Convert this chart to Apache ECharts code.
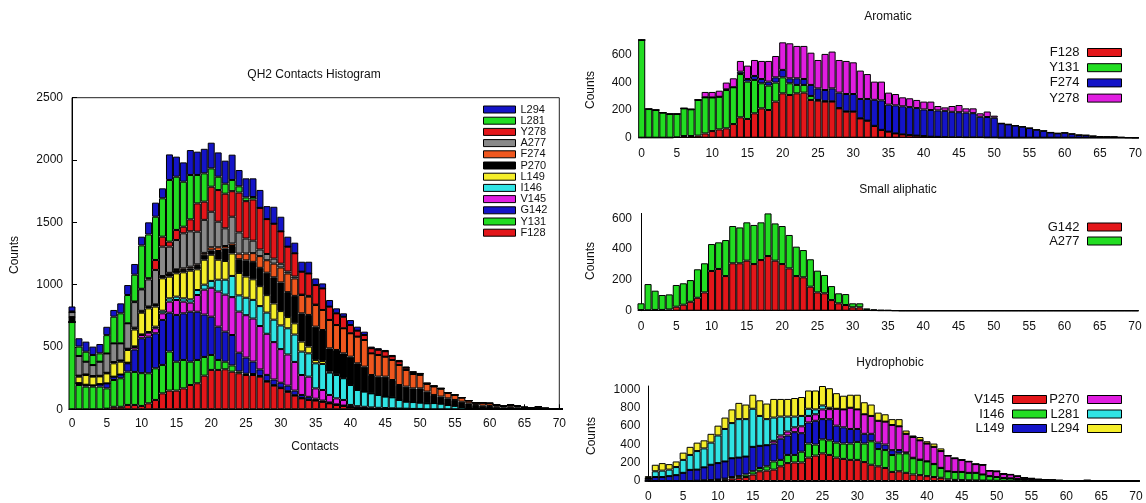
<!DOCTYPE html>
<html><head><meta charset="utf-8">
<script src="https://cdn.jsdelivr.net/npm/echarts@6/dist/echarts.min.js"></script>
<style>html,body{margin:0;padding:0;background:#fff}#c{width:1146px;height:503px}</style>
</head><body><div id="c"></div>
<script>
const contacts = ['0','1','2','3','4','5','6','7','8','9','10','11','12','13','14','15','16','17','18','19','20','21','22','23','24','25','26','27','28','29','30','31','32','33','34','35','36','37','38','39','40','41','42','43','44','45','46','47','48','49','50','51','52','53','54','55','56','57','58','59','60','61','62','63','64','65','66','67','68','69','70'];

// QH2 Contacts Histogram (stack order bottom -> top)
const qhF128 = [0,0,0,0,0,5,20,20,35,35,27,48,75,128,150,150,168,195,209,270,316,316,321,302,289,275,275,262,222,190,170,140,110,88,75,70,60,48,35,27,16,10,8,6,5,4,3,2,2,1,1,0,0,0,0,0,0,0,0,0,0,0,0,0,0,0,0,0,0,0,0];
const qhY131 = [700,195,182,182,182,163,215,229,267,265,263,241,254,228,313,232,228,187,187,150,120,80,61,50,15,10,8,5,4,4,3,5,3,2,2,2,1,1,1,1,1,1,0,0,0,0,0,0,0,0,0,0,0,0,0,0,0,0,0,0,0,0,0,0,0,0,0,0,0,0,0];
const qhG142 = [0,15,15,10,20,40,27,30,67,180,280,294,281,361,312,375,374,401,387,340,307,267,241,244,150,130,100,53,50,45,40,45,37,25,23,13,9,6,4,2,1,1,1,1,1,1,1,1,0,0,0,0,0,0,0,0,0,0,0,0,0,0,0,0,0,0,0,0,0,0,0];
const qhV145 = [0,0,0,0,0,0,0,0,5,20,26,32,40,53,89,120,94,73,134,200,232,282,297,304,330,340,345,348,330,300,270,250,230,160,162,83,85,60,48,45,17,13,11,8,6,5,4,3,3,2,2,0,0,0,0,0,0,0,0,0,0,0,0,0,0,0,0,0,0,0,0];
const qhI146 = [0,0,0,0,0,0,0,0,0,5,5,5,13,21,26,27,26,26,40,40,55,95,120,170,130,140,150,160,170,180,190,210,220,188,187,201,209,179,187,174,160,130,122,113,103,92,88,69,56,55,50,48,50,45,35,28,18,10,5,3,2,0,0,0,0,0,0,0,0,0,0];
const qhL149 = [0,52,78,70,62,80,107,103,102,135,174,190,161,260,174,187,209,230,166,200,210,160,150,180,180,170,165,160,140,130,115,90,90,80,54,27,24,8,5,3,1,0,0,0,0,0,0,0,0,0,0,0,0,0,0,0,0,0,0,0,0,0,0,0,0,0,0,0,0,0,0];
const qhP270 = [40,8,5,5,5,5,10,10,10,10,10,10,13,13,26,27,19,19,27,40,35,70,100,60,110,130,140,147,180,210,230,200,220,227,254,267,248,187,196,197,226,214,200,147,147,160,139,120,121,110,115,94,65,57,53,47,43,38,30,26,25,20,16,20,16,10,8,16,6,5,5];
const qhF274 = [0,0,0,0,0,0,0,0,0,5,5,5,5,5,5,5,13,13,13,15,25,30,20,20,45,55,70,94,100,110,120,150,140,147,147,174,161,228,200,201,188,214,214,174,174,160,161,161,134,115,108,62,68,63,44,40,33,22,18,24,21,15,11,15,11,6,3,5,2,0,0];
const qhA277 = [40,158,102,88,113,155,150,137,204,205,172,217,276,236,210,235,281,284,262,265,285,205,142,215,170,120,100,53,50,40,30,15,15,3,6,3,0,0,0,0,0,0,0,0,0,0,0,0,0,0,0,0,0,0,0,0,0,0,0,0,0,0,0,0,0,0,0,0,0,0,0];
const qhY278 = [0,0,0,0,0,0,0,0,0,5,5,10,80,80,40,81,53,96,227,146,201,254,278,205,320,300,330,334,280,280,260,200,187,184,180,157,173,107,94,93,66,48,40,41,42,44,30,29,18,15,10,5,4,3,2,0,0,0,0,0,0,0,0,0,0,0,0,0,0,0,0];
const qhL281 = [5,75,80,81,67,147,214,241,227,215,348,351,347,308,495,427,361,356,228,227,147,107,80,90,50,30,20,0,0,0,0,0,0,0,0,0,0,0,0,0,0,0,0,0,0,0,0,0,0,0,0,0,0,0,0,0,0,0,0,0,0,0,0,0,0,0,0,0,0,0,0];
const qhL294 = [40,67,81,67,75,67,54,80,80,86,70,97,113,80,205,161,155,200,187,197,206,195,185,203,131,153,150,144,104,136,117,80,85,80,94,53,40,53,40,27,40,32,27,13,12,10,10,11,8,4,3,0,0,0,0,0,0,0,0,0,0,0,0,0,0,0,0,0,0,0,0];

// Aromatic
const arF128 = [0,0,0,0,0,3,12,12,15,31,48,60,68,99,148,136,177,213,201,262,322,310,322,327,274,269,262,262,213,189,189,140,123,85,56,44,31,24,19,15,12,7,6,4,3,3,2,2,2,1,1,0,0,0,0,0,0,0,0,0,0,0,0,0,0,0,0,0,0,0,0];
const arY131 = [709,208,201,182,172,169,201,194,259,262,244,237,278,267,314,271,242,182,177,138,116,85,61,56,29,5,3,2,2,2,1,1,1,1,1,0,0,0,0,0,0,0,0,0,0,0,0,0,0,0,0,0,0,0,0,0,0,0,0,0,0,0,0,0,0,0,0,0,0,0,0];
const arF274 = [0,0,0,0,0,0,0,0,0,0,0,0,5,0,17,19,29,31,29,38,54,36,48,43,80,84,81,94,112,126,127,140,157,189,214,196,204,204,203,200,193,194,192,191,185,182,180,176,150,149,144,104,97,88,80,70,58,50,38,32,36,28,20,18,12,8,7,6,3,1,0];
const arY278 = [0,0,0,0,0,0,0,0,0,39,40,44,49,65,78,97,116,131,150,155,200,254,235,240,234,206,262,267,237,240,230,206,181,132,136,87,82,65,64,59,57,61,32,25,42,52,31,35,25,40,15,0,0,0,0,0,0,0,0,0,0,0,0,0,0,0,0,0,0,0,0];

// Small aliphatic
const saG142 = [4,3,5,5,8,26,39,58,84,119,258,271,225,308,308,325,303,329,355,325,303,275,225,217,156,119,113,69,48,37,22,22,4,2,1,1,0,0,0,0,0,0,0,0,0,0,0,0,0,0,0,0,0,0,0,0,0,0,0,0,0,0,0,0,0,0,0,0,0,0,0];
const saA277 = [44,170,125,97,98,141,139,141,185,189,175,173,234,242,233,249,254,245,277,242,247,217,191,177,178,141,119,91,65,71,26,26,11,7,4,3,2,0,0,0,0,0,0,0,0,0,0,0,0,0,0,0,0,0,0,0,0,0,0,0,0,0,0,0,0,0,0,0,0,0,0];

// Hydrophobic
const hyV145 = [0,0,0,0,0,0,0,0,3,5,11,18,28,35,43,71,106,113,124,160,195,202,202,255,277,301,284,255,241,230,230,206,177,160,142,99,106,89,71,64,53,43,35,18,12,10,8,6,5,4,3,2,2,1,1,0,0,0,0,0,0,0,0,0,0,0,0,0,0,0,0];
const hyI146 = [0,0,0,0,0,0,0,3,5,5,5,8,15,18,28,35,36,47,89,70,89,82,117,153,120,153,159,163,167,178,196,202,256,188,195,184,195,212,177,166,160,141,107,88,87,89,81,83,66,49,40,30,27,20,15,12,8,6,4,3,2,1,1,2,1,0,0,0,0,0,0];
const hyL149 = [25,43,43,53,64,89,121,121,141,167,179,187,205,202,195,266,241,230,195,231,212,248,202,230,259,220,230,185,177,159,141,106,81,70,60,53,36,10,5,3,2,2,1,0,0,0,0,0,0,0,0,0,0,0,0,0,0,0,0,0,0,0,0,0,0,0,0,0,0,0,0];
const hyP270 = [0,0,0,0,0,0,0,0,0,0,0,0,0,0,0,0,0,0,30,35,43,53,75,71,71,106,110,184,195,231,213,213,195,238,250,274,259,203,226,210,193,186,183,171,149,131,124,95,106,60,63,46,42,32,19,16,10,8,7,4,2,3,2,5,3,2,1,0,0,0,0];
const hyL281 = [8,63,70,71,88,141,163,202,206,241,301,354,383,419,408,415,326,284,253,206,163,117,113,78,53,43,15,0,0,0,0,0,0,0,0,0,0,0,0,0,0,0,0,0,0,0,0,0,0,0,0,0,0,0,0,0,0,0,0,0,0,0,0,0,0,0,0,0,0,0,0];
const hyL294 = [20,71,82,60,61,79,88,92,88,96,107,124,149,177,159,153,170,170,203,192,192,202,206,199,206,212,213,170,149,142,160,131,124,89,80,64,78,36,17,36,25,36,29,0,0,0,0,0,0,0,0,0,0,0,0,0,0,0,0,0,0,0,0,0,0,0,0,0,0,0,0];

const RED='#e3161a', GREEN='#22dd22', BLUE='#1414c8', MAG='#e01ee0', CYAN='#30e4e4',
      YEL='#f5ee2a', ORG='#ef571e', GRAY='#898989', BLK='#000000';
const FONT = '"Liberation Sans", Arial, sans-serif';
const TXT = '#111';

function bars(name, vals, color, idx, stack) {
  return {
    name, type: 'bar', stack, xAxisIndex: idx, yAxisIndex: idx, barWidth: '100%',
    clip: true, animation: false, emphasis: {disabled: true},
    itemStyle: {color, borderColor: '#000', borderWidth: 1},
    data: vals
  };
}
const leftDefs = [['F128',qhF128,RED],['Y131',qhY131,GREEN],['G142',qhG142,BLUE],['V145',qhV145,MAG],
  ['I146',qhI146,CYAN],['L149',qhL149,YEL],['P270',qhP270,BLK],['F274',qhF274,ORG],['A277',qhA277,GRAY],
  ['Y278',qhY278,RED],['L281',qhL281,GREEN],['L294',qhL294,BLUE]];
const aroDefs = [['F128',arF128,RED],['Y131',arY131,GREEN],['F274',arF274,BLUE],['Y278',arY278,MAG]];
const smDefs = [['G142',saG142,RED],['A277',saA277,GREEN]];
const hyDefs = [['V145',hyV145,RED],['I146',hyI146,GREEN],['L149',hyL149,BLUE],['P270',hyP270,MAG],['L281',hyL281,CYAN],['L294',hyL294,YEL]];

const series = [];
leftDefs.forEach(d => series.push(bars(d[0], d[1], d[2], 0, 'qh')));
aroDefs.forEach(d => series.push(bars(d[0], d[1], d[2], 1, 'aro')));
smDefs.forEach(d => series.push(bars(d[0], d[1], d[2], 2, 'sm')));
hyDefs.forEach(d => series.push(bars(d[0], d[1], d[2], 3, 'hy')));

function legendItems(defs) {
  return defs.map(d => ({name: d[0], icon: 'rect', itemStyle: {color: d[2], borderColor: '#000', borderWidth: 1}}));
}
const legBase = {orient: 'vertical', selectedMode: false, padding: 0, icon: 'rect'};

const grids = [
  {left: 72, top: 97.7, width: 487.3, height: 311.6, show: true, borderColor: '#222', borderWidth: 1},
  {left: 641.7, top: 40, width: 493.6, height: 97.7},
  {left: 641, top: 213.4, width: 494, height: 97.3},
  {left: 648.3, top: 386, width: 487.7, height: 97.3}
];
function xAx(i, ticks) {
  return {type: 'category', gridIndex: i, data: contacts, boundaryGap: false,
    axisLine: {show: true, lineStyle: {color: '#000', width: 1}},
    axisTick: {show: ticks, inside: true, length: 5, interval: 4, lineStyle: {color: '#000'}},
    splitLine: {show: false},
    axisLabel: {color: TXT, fontSize: 12, fontFamily: FONT, interval: 4, margin: i === 0 ? 8 : 10}};
}
function yAx(i, opts) {
  return Object.assign({type: 'value', gridIndex: i, min: 0,
    axisLine: {show: true, lineStyle: {color: '#000', width: 1}},
    splitLine: {show: false}}, opts);
}
const lab = (v) => String(v);
const lab200 = (v) => (v % 200 === 0 ? String(v) : '');
const yAxes = [
  yAx(0, {max: 2500, interval: 500, axisTick: {show: true, inside: true, length: 5, lineStyle: {color: '#000'}},
    axisLabel: {color: TXT, fontSize: 12, fontFamily: FONT, margin: 9, formatter: lab}}),
  yAx(1, {max: v => v.max, interval: 200, axisTick: {show: false},
    axisLabel: {color: TXT, fontSize: 12, fontFamily: FONT, margin: 10, formatter: lab200}}),
  yAx(2, {max: v => v.max, interval: 200, axisTick: {show: false},
    axisLabel: {color: TXT, fontSize: 12, fontFamily: FONT, margin: 9, formatter: lab200}}),
  yAx(3, {max: v => v.max, interval: 200, axisTick: {show: false},
    axisLabel: {color: TXT, fontSize: 12, fontFamily: FONT, margin: 8, formatter: lab200}})
];

const tStyle = {color: TXT, fontSize: 12, fontWeight: 'normal', fontFamily: FONT};
const gtext = (x, y, text, rot) => ({type: 'text', x, y, rotation: rot ? Math.PI / 2 : 0,
  style: {text, fill: TXT, font: '12px ' + FONT, textAlign: 'center', textVerticalAlign: 'middle'}});
const option = {
  backgroundColor: '#fff',
  animation: false,
  title: [
    {text: 'QH2 Contacts Histogram', left: 314, top: 69, textAlign: 'center', padding: 0, textStyle: tStyle},
    {text: 'Aromatic', left: 888, top: 11, textAlign: 'center', padding: 0, textStyle: tStyle},
    {text: 'Small aliphatic', left: 898, top: 184, textAlign: 'center', padding: 0, textStyle: tStyle},
    {text: 'Hydrophobic', left: 890, top: 357, textAlign: 'center', padding: 0, textStyle: tStyle}
  ],
  grid: grids,
  xAxis: [xAx(0, true), xAx(1, false), xAx(2, false), xAx(3, false)],
  yAxis: yAxes,
  legend: [
    Object.assign({}, legBase, {data: legendItems(leftDefs.slice().reverse()), left: 483, top: 104,
      itemWidth: 32, itemHeight: 7, itemGap: 0.2, align: 'left',
      textStyle: {color: TXT, fontSize: 11, fontFamily: FONT}}),
    Object.assign({}, legBase, {data: legendItems(aroDefs), right: 24, top: 46,
      itemWidth: 34, itemHeight: 8, itemGap: 2.2, align: 'right',
      textStyle: {color: TXT, fontSize: 13, fontFamily: FONT, padding: [0, 3, 0, 0]}}),
    Object.assign({}, legBase, {data: legendItems(smDefs), right: 24, top: 220.5,
      itemWidth: 34, itemHeight: 8, itemGap: 1, align: 'right',
      textStyle: {color: TXT, fontSize: 13, fontFamily: FONT, padding: [0, 3, 0, 0]}}),
    Object.assign({}, legBase, {data: legendItems(hyDefs.slice(0, 3)), right: 99, top: 393,
      itemWidth: 34, itemHeight: 8, itemGap: 1.5, align: 'right',
      textStyle: {color: TXT, fontSize: 13, fontFamily: FONT, padding: [0, 3, 0, 0]}}),
    Object.assign({}, legBase, {data: legendItems(hyDefs.slice(3)), right: 24, top: 393,
      itemWidth: 34, itemHeight: 8, itemGap: 1.5, align: 'right',
      textStyle: {color: TXT, fontSize: 13, fontFamily: FONT, padding: [0, 3, 0, 0]}})
  ],
  graphic: [
    gtext(15, 255, 'Counts', true),
    gtext(315, 447, 'Contacts', false),
    gtext(591, 90, 'Counts', true),
    gtext(591, 261, 'Counts', true),
    gtext(592, 436, 'Counts', true)
  ],
  series
};
const chart = echarts.init(document.getElementById('c'), null, {renderer: 'canvas'});
chart.setOption(option);
</script></body></html>
